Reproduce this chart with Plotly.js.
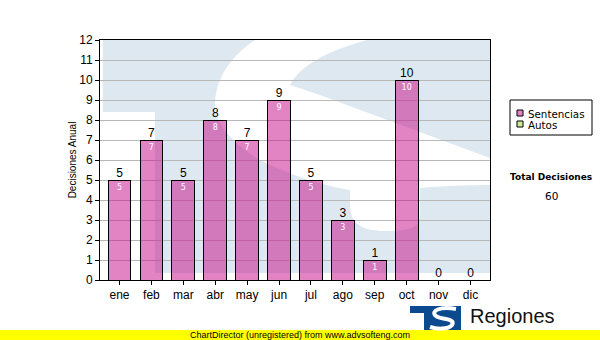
<!DOCTYPE html>
<html><head><meta charset="utf-8">
<script src="https://cdn.plot.ly/plotly-3.0.1.min.js"></script>
<style>html,body{margin:0;padding:0;background:#fff}#chart{width:600px;height:340px}</style>
</head><body><div id="chart"></div>
<script>
const months = ['ene','feb','mar','abr','may','jun','jul','ago','sep','oct','nov','dic'];
const sentencias = [5,7,5,8,7,9,5,3,1,10,0,0];
const autos = [0,0,0,0,0,0,0,0,0,0,0,0];
const seriesNames = ['Sentencias','Autos'];
const seriesColors = ['rgba(200,20,140,0.52)','#cceb99'];
const yTitle = 'Decisiones Anual';
const totalTitle = 'Total Decisiones';
const brandText = 'Regiones';
const footerText = 'ChartDirector (unregistered) from www.advsofteng.com';

const totals = months.map((m,i)=>sentencias[i]+autos[i]);
const grandTotal = totals.reduce((a,b)=>a+b,0);

// pixel -> paper helpers (plot area 100..490 x 40..280)
const L=100,R=490,T=40,B=280;
const px = x => (x-L)/(R-L);
const py = y => (B-y)/(B-T);
function P(cmds){
  return cmds.map(c=>{
    const op=c[0]; const nums=c.slice(1); const out=[];
    for(let i=0;i<nums.length;i+=2){ out.push(px(nums[i]).toFixed(4)+','+py(nums[i+1]).toFixed(4)); }
    return op+out.join(' ');
  }).join(' ');
}
function rect(x0,y0,x1,y1,fill,line,layer){
  return {type:'rect',xref:'paper',yref:'paper',layer:layer||'above',x0:px(x0),x1:px(x1),y0:py(y1),y1:py(y0),
          fillcolor:fill,line:line||{width:0}};
}
const wmBlue='rgb(222,232,241)';
const shapes = [
  // watermark block
  {type:'path',xref:'paper',yref:'paper',layer:'below',line:{width:0},fillcolor:wmBlue,
   path:P([['M',103,40],['L',490,40],['L',490,273],['L',155,273],['L',155,112],['L',103,112],['Z']])},
  // watermark S carved (white)
  {type:'path',xref:'paper',yref:'paper',layer:'below',line:{width:0},fillcolor:'#ffffff',
   path:P([['M',255,40],['L',367,40],['C',330,50,300,65,290,85],['C',310,92,330,98,347,105],['L',490,158],['L',490,185],
           ['C',470,185,440,186,420,188],['L',420,215],['C',420,228,410,231,385,231],['C',360,231,350,222,350,205],['L',350,190],
           ['C',320,185,290,175,260,160],['C',235,145,215,125,215,105],['C',215,85,225,60,255,40],['Z']])},
  // footer bar
  rect(0,330,600,340,'#ffff00'),
  // logo
  {type:'path',xref:'paper',yref:'paper',layer:'above',line:{width:0},fillcolor:'#0b4a8e',
   path:P([['M',410,306],['L',461,306],['L',461,330],['L',424,330],['L',424,313],['L',410,313],['Z']])},
  {type:'path',xref:'paper',yref:'paper',layer:'above',line:{color:'#ffffff',width:4},fillcolor:'rgba(0,0,0,0)',
   path:P([['M',456,309],['C',440,306,430,311,436,316],['C',441,320,456,318,452,325],['C',448,330,436,329,430,327]])},
  // legend box
  rect(510,100,592,135,'#ffffff',{color:'#000',width:1}),
  rect(517,110,523,116,seriesColors[0],{color:'#000',width:1}),
  rect(517,121,523,127,seriesColors[1],{color:'#000',width:1})
];

const annotations = [
  {xref:'paper',yref:'paper',x:px(526),y:py(113.5),text:seriesNames[0],showarrow:false,
   font:{family:'DejaVu Sans',size:10.3,color:'#000'},xanchor:'left',yanchor:'middle'},
  {xref:'paper',yref:'paper',x:px(526),y:py(124.5),text:seriesNames[1],showarrow:false,
   font:{family:'DejaVu Sans',size:10.3,color:'#000'},xanchor:'left',yanchor:'middle'},
  {xref:'paper',yref:'paper',x:px(551),y:py(177),text:'<b>'+totalTitle+'</b>',showarrow:false,
   font:{family:'DejaVu Sans',size:9,color:'#000'},xanchor:'center',yanchor:'middle'},
  {xref:'paper',yref:'paper',x:px(551),y:py(196),text:String(grandTotal),showarrow:false,
   font:{family:'DejaVu Sans',size:10.5,color:'#000'},xanchor:'center',yanchor:'middle'},
  {xref:'paper',yref:'paper',x:px(300),y:py(335),text:footerText,showarrow:false,
   font:{family:'Liberation Sans',size:9,color:'#000'},xanchor:'center',yanchor:'middle'},
  {xref:'paper',yref:'paper',x:px(468),y:py(316),text:brandText,showarrow:false,
   font:{family:'Liberation Sans',size:20,color:'#111'},xanchor:'left',yanchor:'middle'}
];

const traces = [
  {type:'bar',name:seriesNames[0],x:months,y:sentencias,
   marker:{color:seriesColors[0],line:{color:'#000',width:1}},
   text:sentencias.map(v=>v>0?String(v):''),textposition:'inside',insidetextanchor:'end',
   textangle:0,constraintext:'none',insidetextfont:{family:'DejaVu Sans',size:8,color:'#fff'},hoverinfo:'skip'},
  {type:'bar',name:seriesNames[1],x:months,y:autos,
   marker:{color:seriesColors[1],line:{color:'#000',width:1}},hoverinfo:'skip'},
  {type:'scatter',mode:'text',x:months,y:totals,text:totals.map(String),textposition:'top center',
   textfont:{family:'Liberation Sans',size:12,color:'#000'},showlegend:false,cliponaxis:false,hoverinfo:'skip'}
];

const layout = {
  width:600,height:340,margin:{l:L,r:600-R,t:T,b:340-B,autoexpand:false},
  paper_bgcolor:'#ffffff',plot_bgcolor:'rgba(0,0,0,0)',
  barmode:'stack',bargap:0.29,
  font:{family:'Liberation Sans',size:12,color:'#000'},
  xaxis:{type:'category',showline:true,linecolor:'#000',linewidth:1,mirror:true,ticks:'outside',ticklen:4,
         tickcolor:'#000',showgrid:false,tickfont:{size:12},fixedrange:true,automargin:false},
  yaxis:{range:[0,12],dtick:1,showgrid:true,gridcolor:'#b8b8b8',gridwidth:1,showline:true,linecolor:'#000',mirror:true,
         ticks:'outside',ticklen:4,tickcolor:'#000',zeroline:false,tickfont:{size:12},automargin:false,
         title:{text:yTitle,font:{size:10},standoff:0},fixedrange:true},
  showlegend:false,
  shapes:shapes,annotations:annotations
};
Plotly.newPlot('chart',traces,layout,{staticPlot:true,displayModeBar:false});
</script></body></html>
